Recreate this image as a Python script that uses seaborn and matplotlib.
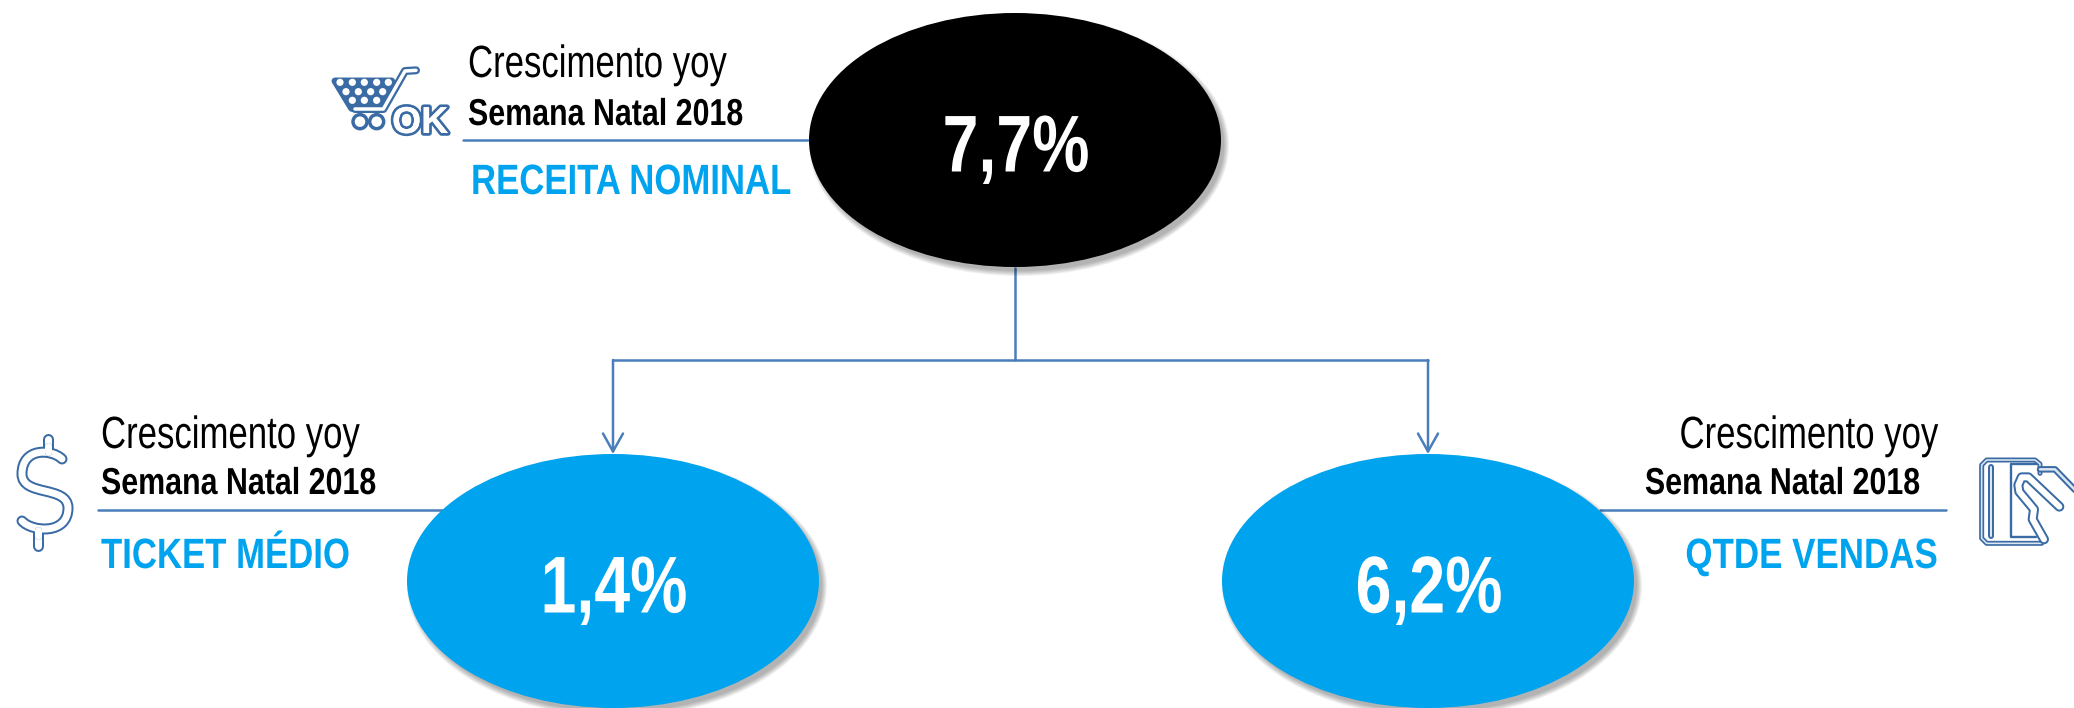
"""Receita nominal breakdown diagram: nodes, connectors and icons, in pixel coords."""

import matplotlib
matplotlib.use("Agg")
import matplotlib.pyplot as plt
import matplotlib.patheffects as pe
from matplotlib.patches import Circle, Ellipse, FancyArrowPatch, PathPatch, Polygon, Rectangle
from matplotlib.path import Path
from matplotlib.text import Text
from matplotlib.transforms import Affine2D, Bbox
import pandas as pd
import seaborn as sns

# ── Data ───────────────────────────────────────────────────────────────────────
METRICS = ["RECEITA NOMINAL", "TICKET MÉDIO", "QTDE VENDAS"]
VALUES = ["7,7%", "1,4%", "6,2%"]
LINE_1 = "Crescimento yoy"
LINE_2 = "Semana Natal 2018"

# ── Style ──────────────────────────────────────────────────────────────────────
sns.set_theme(style="white")
plt.rcParams["font.family"] = ["Liberation Sans", "DejaVu Sans"]
BLACK = "#000000"
CYAN = "#00A3EE"
LINE = "#4A7EBB"
ICON = "#3A6BA5"
PALE = "#DCE6F1"

W, H = 2074, 708
fig = plt.figure(figsize=(W / 100, H / 100), dpi=100)
ax = fig.add_axes([0, 0, 1, 1])
ax.set_xlim(0, W)
ax.set_ylim(H, 0)
ax.axis("off")

NODE_RX, NODE_RY = 206, 127
NODES = [(1015, 140, BLACK), (613, 581, CYAN), (1428, 581, CYAN)]


# No condensed font is installed, so squeeze the real text horizontally when drawing
class Squeeze(pe.AbstractPathEffect):
    def __init__(self, x0, s):
        super().__init__()
        self.x0, self.s = x0, s

    def draw_path(self, renderer, gc, tpath, affine, rgbFace=None):
        extra = Affine2D().translate(-self.x0, 0).scale(self.s, 1).translate(self.x0, 0)
        renderer.draw_path(gc, tpath, affine + extra, rgbFace)


class NarrowText(Text):
    def __init__(self, x, y, text, s=1.0, **kwargs):
        super().__init__(x, y, text, **kwargs)
        self.x0, self.s = x, s
        self.set_path_effects([Squeeze(x, s)])

    def get_window_extent(self, renderer=None, dpi=None):
        bb = super().get_window_extent(renderer, dpi)
        return Bbox.from_extents(self.x0 + (bb.x0 - self.x0) * self.s, bb.y0,
                                 self.x0 + (bb.x1 - self.x0) * self.s, bb.y1)


def narrow(x, y, text, s, **kwargs):
    t = NarrowText(x, y, text, s=s, **kwargs)
    ax.add_artist(t)
    return t


def node(x, y, color, label):
    # soft shadow from stacked translucent ellipses
    for grow in range(8, -4, -2):
        ax.add_patch(Ellipse((x + 4, y + 5), 2 * NODE_RX + grow, 2 * NODE_RY + grow,
                             color="#000000", alpha=0.055, lw=0, zorder=2))
    ax.add_patch(Ellipse((x, y), 2 * NODE_RX, 2 * NODE_RY, color=color, lw=0, zorder=3))
    narrow(x + 1, y + 31.5, label, 0.8, color="white", fontsize=58, fontweight="bold",
           ha="center", va="baseline", zorder=4)


def connector(xs, ys, lw=1.8):
    seg = pd.DataFrame({"x": xs, "y": ys})
    sns.lineplot(data=seg, x="x", y="y", estimator=None, sort=False,
                 color=LINE, linewidth=lw, ax=ax, zorder=1)


def caption(x, ha, x2, metric, ys, squeeze):
    narrow(x, ys[0], LINE_1, squeeze[0], fontsize=32.5, color="black", ha=ha, va="baseline")
    narrow(x2, ys[1], LINE_2, squeeze[1], fontsize=27, fontweight="bold", color="black", ha=ha, va="baseline")
    narrow(x + (3 if ha == "left" and x > 400 else 0), ys[2], metric, squeeze[2], fontsize=30.5,
           fontweight="bold", color=CYAN, ha=ha, va="baseline")


def tube(points, outer, inner, fill="white", zorder=6):
    # hollow icon stroke: thick dark line with a thinner light one on top (widths in px)
    xs, ys = zip(*points)
    for lw, c in [(outer, ICON), (inner, fill)]:
        ax.plot(xs, ys, color=c, lw=lw * 0.72, solid_capstyle="round",
                solid_joinstyle="round", zorder=zorder)


# ── Nodes and connectors ───────────────────────────────────────────────────────
for (x, y, color), value in zip(NODES, VALUES):
    node(x, y, color, value)

connector([1015, 1015], [268, 360])
connector([613, 1428], [360, 360])
for x in [613, 1428]:
    ax.add_patch(FancyArrowPatch((x, 360), (x, 454), arrowstyle="->,head_length=0.43,head_width=0.24",
                                 mutation_scale=30, color=LINE, lw=1.8, shrinkA=0, shrinkB=0, zorder=1))

connector([463, 808], [140, 140])
connector([98, 445], [510, 510])
connector([1600, 1946], [510, 510])

# ── Captions ───────────────────────────────────────────────────────────────────
caption(468, "left", 468, METRICS[0], (77, 125, 194), (0.77, 0.81, 0.82))
caption(101, "left", 101, METRICS[1], (448, 494, 568), (0.77, 0.81, 0.82))
caption(1938, "right", 1920, METRICS[2], (448, 494, 568), (0.77, 0.81, 0.825))

# ── Icons ──────────────────────────────────────────────────────────────────────
# dollar sign
s_curve = Path([(62, 459), (52, 449), (22, 447), (22, 474), (22, 497), (68, 485), (68, 508),
                (68, 535), (32, 532), (22, 521)],
               [Path.MOVETO] + [Path.CURVE4] * 9)
tube([(48, 439), (48, 452)], 11, 7)
tube([(38, 530), (38, 546)], 11, 7)
for lw, c in [(11, ICON), (7, "white")]:
    ax.add_patch(PathPatch(s_curve, fc="none", ec=c, lw=lw * 0.72, capstyle="round", zorder=6))
tube([(48, 446), (48, 452)], 7, 7)
tube([(38, 530), (38, 536)], 7, 7)


def cart_xy(X, Y):
    return 320 + X / 3, 55 + Y / 3


# shopping cart with OK
ax.add_patch(Polygon([cart_xy(*p) for p in [(45, 78), (215, 78), (185, 160), (95, 160)]],
                     fc=ICON, ec=ICON, lw=5, joinstyle="round", zorder=5))
tube([cart_xy(*p) for p in [(105, 162), (190, 162), (255, 48), (288, 46)]], 8, 3.5)
for row_y, row_x in [(82, [60, 97, 133, 170, 205]), (110, [78, 115, 152, 188]), (136, [97, 133, 170])]:
    for bx in row_x:
        xy = cart_xy(bx, row_y)
        ax.add_patch(Circle(xy, 3.6, fc="white", ec="none", zorder=6))
for wx in [120, 170]:
    ax.add_patch(Circle(cart_xy(wx, 200), 7, fc="white", ec=ICON, lw=2.5, zorder=6))
ax.text(392, 133, "OK", fontsize=27, fontweight="bold", color="white", ha="left", va="baseline",
        zorder=6, path_effects=[pe.withStroke(linewidth=4, foreground=ICON), pe.Normal()])
ax.add_patch(Rectangle((455, 50), 8, 90, color="white", lw=0, zorder=7))


def card_xy(X, Y):
    return 1960 + X / 3, 440 + Y / 3


# card and hand
tube([card_xy(*p) for p in [(240, 100), (240, 72), (225, 60), (80, 60), (65, 75), (65, 295),
                            (80, 310), (245, 310)]], 5, 1.6, fill=PALE)
tube([card_xy(*p) for p in [(92, 80), (92, 288)]], 6, 2, fill=PALE)
xs, ys = zip(*[card_xy(*p) for p in [(230, 72), (152, 72), (152, 292), (228, 292)]])
ax.plot(xs, ys, color=ICON, lw=1.7, solid_joinstyle="round", zorder=6)
tube([card_xy(*p) for p in [(240, 88), (285, 88), (350, 155)]], 6.5, 2.5, fill=PALE)
tube([card_xy(*p) for p in [(298, 200), (205, 112), (185, 112), (175, 135), (178, 155), (222, 208),
                            (218, 238), (252, 298)]], 10, 6)

fig.savefig("out.png", dpi=100)
